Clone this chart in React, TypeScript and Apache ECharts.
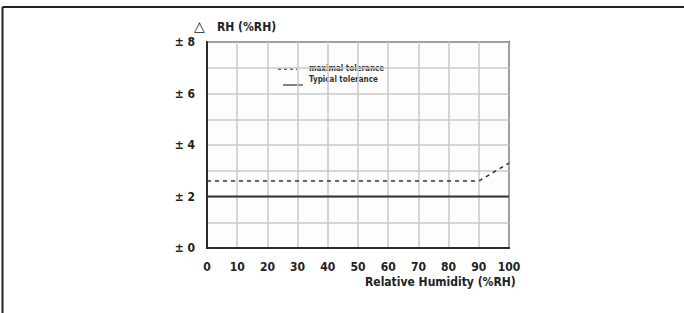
import React, { useEffect, useRef } from "react";
import * as echarts from "echarts";

const humidity = [0, 10, 20, 30, 40, 50, 60, 70, 80, 90, 100];
const maximalTolerance = [2.6, 2.6, 2.6, 2.6, 2.6, 2.6, 2.6, 2.6, 2.6, 2.6, 3.3];
const typicalTolerance = [2, 2, 2, 2, 2, 2, 2, 2, 2, 2, 2];
const legendNames = ["maximal tolerance", "Typical tolerance"];
const yTitleSymbol = "△";
const yTitle = "RH (%RH)";
const xTitle = "Relative Humidity (%RH)";

const FONT = "'Liberation Sans Narrow', 'DejaVu Sans Condensed', 'Liberation Sans', sans-serif";

export default function App() {
  const ref = useRef<HTMLDivElement>(null);
  useEffect(() => {
    if (!ref.current) return;
    const chart = echarts.init(ref.current, undefined, { renderer: "svg" });
    const ink = "#2b2b2b";
    chart.setOption({
      animation: false,
      backgroundColor: "#ffffff",
      grid: { left: 207, right: 175, top: 42, bottom: 65, show: true, backgroundColor: "#fdfdfb", borderColor: ink, borderWidth: 2 },
      xAxis: {
        type: "value",
        min: 0,
        max: 100,
        interval: 10,
        axisLine: { show: true, lineStyle: { color: ink, width: 2 } },
        axisTick: { show: false },
        axisLabel: { color: "#222", fontFamily: FONT, fontWeight: "bold", fontSize: 12, margin: 13 },
        splitLine: { show: true, lineStyle: { color: "#c8c8c8", width: 1.5 } },
      },
      yAxis: {
        type: "value",
        min: 0,
        max: 8,
        interval: 1,
        axisLine: { show: true, lineStyle: { color: ink, width: 2 } },
        axisTick: { show: false },
        axisLabel: {
          color: "#222",
          fontFamily: FONT,
          fontWeight: "bold",
          fontSize: 12,
          margin: 12,
          formatter: (v: number) => (v % 2 === 0 ? "± " + v : ""),
        },
        splitLine: { show: true, lineStyle: { color: "#c8c8c8", width: 1.5 } },
      },
      series: [
        {
          name: legendNames[0],
          type: "line",
          data: humidity.map((x, i) => [x, maximalTolerance[i]]),
          symbol: "none",
          lineStyle: { color: "#333", width: 1.5, type: [4, 4] },
        },
        {
          name: legendNames[1],
          type: "line",
          data: humidity.map((x, i) => [x, typicalTolerance[i]]),
          symbol: "none",
          lineStyle: { color: "#333", width: 2 },
        },
      ],
      graphic: [
        { type: "line", shape: { x1: 2.5, y1: 7, x2: 684, y2: 7 }, style: { stroke: "#222", lineWidth: 2 } },
        { type: "line", shape: { x1: 2.5, y1: 7, x2: 2.5, y2: 313 }, style: { stroke: "#222", lineWidth: 2 } },
        {
          type: "text",
          left: 194,
          top: 19,
          style: { text: yTitleSymbol, fill: "#222", font: "14px 'DejaVu Sans', sans-serif" },
        },
        {
          type: "text",
          left: 217,
          top: 21,
          style: { text: yTitle, fill: "#222", font: "bold 12px " + FONT },
        },
        {
          type: "text",
          left: 365,
          top: 276,
          style: { text: xTitle, fill: "#222", font: "bold 12px " + FONT },
        },
        { type: "line", shape: { x1: 278, y1: 69, x2: 297, y2: 69 }, style: { stroke: "#333", lineWidth: 1.5, lineDash: [3, 3] } },
        { type: "line", shape: { x1: 283, y1: 85, x2: 303, y2: 85 }, style: { stroke: "#333", lineWidth: 1.2 } },
        { type: "text", left: 309, top: 64, style: { text: legendNames[0], fill: "#333", font: "bold 8px " + FONT } },
        { type: "text", left: 309, top: 75, style: { text: legendNames[1], fill: "#333", font: "bold 8px " + FONT } },
      ],
    });
    return () => chart.dispose();
  }, []);
  return <div ref={ref} style={{ width: 684, height: 313, position: "absolute", left: 0, top: 0 }} />;
}
